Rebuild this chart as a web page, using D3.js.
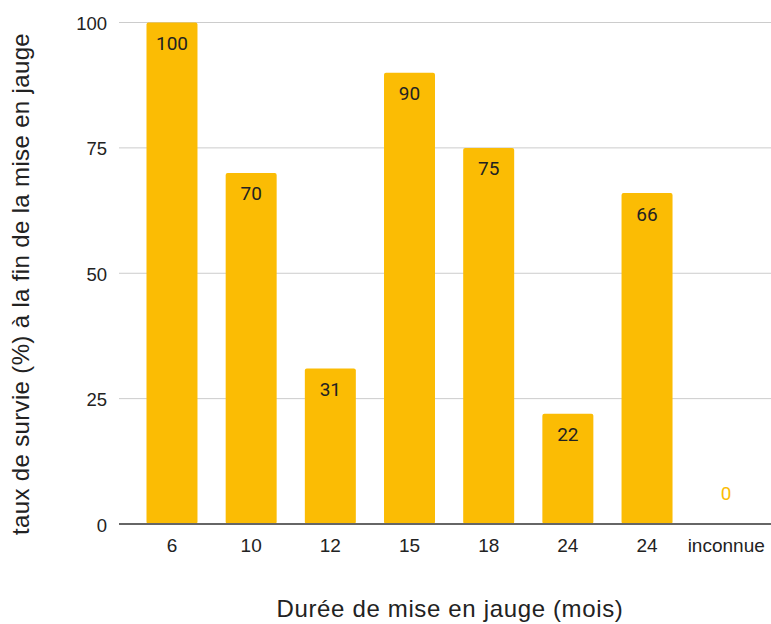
<!DOCTYPE html>
<html>
<head>
<meta charset="utf-8">
<script src="https://cdn.jsdelivr.net/npm/d3@7"></script>
<style>
  html, body { margin: 0; padding: 0; background: #fff; }
  svg { display: block; }
</style>
</head>
<body>
<svg id="chart" width="771" height="624"></svg>
<script>
// Survival rate at the end of heeling-in, by heeling-in duration
const categories = ["6", "10", "12", "15", "18", "24", "24", "inconnue"];
const values = [100, 70, 31, 90, 75, 22, 66, 0];
const yTicks = [0, 25, 50, 75, 100];

const svg = d3.select("#chart");
const plot = { left: 119, right: 771, top: 22.5, bottom: 524 };
const barColor = "#fbbc04";
const sans = "'Liberation Sans', Arial, sans-serif";

const x = d3.scaleBand()
  .domain(d3.range(categories.length))
  .range([132.4, 765.8])
  .paddingInner(0.356)
  .paddingOuter(0.178);

const y = d3.scaleLinear().domain([0, 100]).range([plot.bottom, plot.top]);

// Horizontal gridlines
svg.append("g")
  .selectAll("line")
  .data(yTicks.filter(d => d !== 0))
  .join("line")
  .attr("x1", plot.left).attr("x2", plot.right)
  .attr("y1", d => y(d)).attr("y2", d => y(d))
  .attr("stroke", "#cccccc").attr("stroke-width", 1);

// Y axis labels
const yAxis = d3.axisLeft(y).tickValues(yTicks).tickSize(0).tickPadding(0);
svg.append("g")
  .attr("transform", "translate(107,0)")
  .call(yAxis)
  .call(g => g.select(".domain").remove())
  .call(g => g.selectAll("text")
    .attr("font-family", sans)
    .attr("font-size", 18.5)
    .attr("fill", "#222")
    .attr("dy", 7));

// Bars
svg.append("g")
  .selectAll("rect")
  .data(values)
  .join("rect")
  .attr("x", (d, i) => x(i))
  .attr("width", x.bandwidth())
  .attr("y", d => y(d))
  .attr("height", d => y(0) - y(d))
  .attr("rx", 2).attr("ry", 2)
  .attr("fill", barColor);

// Baseline
svg.append("line")
  .attr("x1", plot.left).attr("x2", plot.right)
  .attr("y1", y(0)).attr("y2", y(0))
  .attr("stroke", "#666").attr("stroke-width", 2);

// Value labels
svg.append("g")
  .selectAll("text")
  .data(values)
  .join("text")
  .attr("x", (d, i) => x(i) + x.bandwidth() / 2)
  .attr("y", d => d > 0 ? y(d) + 27.5 : y(d) - 24)
  .attr("text-anchor", "middle")
  .attr("font-family", "Roboto, sans-serif")
  .attr("font-size", 19)
  .attr("fill", d => d > 0 ? "#222" : barColor)
  .text(d => d);

// X axis labels
const xAxis = d3.axisBottom(x).tickFormat(i => categories[i]).tickSize(0).tickPadding(0);
svg.append("g")
  .attr("transform", "translate(0,552.3)")
  .call(xAxis)
  .call(g => g.select(".domain").remove())
  .call(g => g.selectAll("text")
    .attr("font-family", sans)
    .attr("font-size", 19)
    .attr("fill", "#222")
    .attr("dy", 0));

// Axis titles
svg.append("text")
  .attr("x", 450).attr("y", 616.7)
  .attr("text-anchor", "middle")
  .attr("font-family", sans)
  .attr("font-size", 24)
  .attr("letter-spacing", 0.65)
  .attr("fill", "#222")
  .text("Durée de mise en jauge (mois)");

svg.append("text")
  .attr("transform", "translate(28.5,284) rotate(-90)")
  .attr("text-anchor", "middle")
  .attr("font-family", sans)
  .attr("font-size", 24)
  .attr("letter-spacing", 0.35)
  .attr("fill", "#222")
  .text("taux de survie (%) à la fin de la mise en jauge");
</script>
</body>
</html>
